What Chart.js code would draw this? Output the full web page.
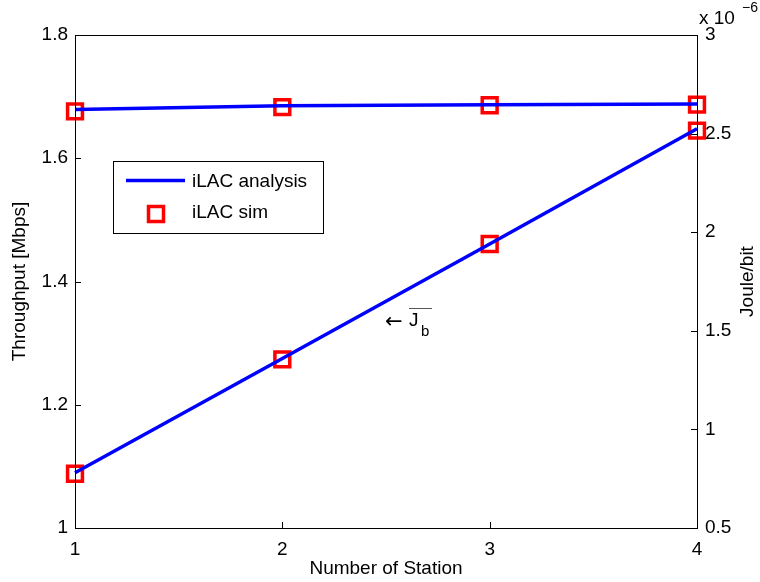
<!DOCTYPE html>
<html>
<head>
<meta charset="utf-8">
<script src="https://cdn.jsdelivr.net/npm/chart.js@4.4.0/dist/chart.umd.min.js"></script>
<style>
  html, body { margin: 0; padding: 0; background: #fff; }
  #wrap { width: 760px; height: 582px; }
</style>
</head>
<body>
<div id="wrap"><canvas id="chart" width="760" height="582"></canvas></div>
<script>
// Data
const stations = [1, 2, 3, 4];
const throughputAnalysis = [1.679, 1.685, 1.687, 1.688];
const throughputSim = [1.676, 1.683, 1.686, 1.687];
const jouleAnalysis = [0.78, 1.36, 1.94, 2.525];
const jouleSim = [0.775, 1.355, 1.94, 2.515];
const leftTicks = [1, 1.2, 1.4, 1.6, 1.8];
const rightTicks = [0.5, 1, 1.5, 2, 2.5, 3];

const FONT = '"Liberation Sans", Arial, sans-serif';
const FS = 19;
const BLUE = '#0000ff';
const RED = '#ff0000';

function pts(xs, ys) {
  return xs.map((x, i) => ({ x: x, y: ys[i] }));
}

// Draws box frame, inward ticks, axis titles, exponent, annotation and legend
const matlabDecor = {
  id: 'matlabDecor',
  afterDraw(chart) {
    const ctx = chart.ctx;
    const a = chart.chartArea;
    const sx = chart.scales.x, yl = chart.scales.y, yr = chart.scales.y2;
    ctx.save();
    ctx.strokeStyle = '#000';
    ctx.lineWidth = 1;
    ctx.strokeRect(Math.round(a.left) + 0.5, Math.round(a.top) + 0.5, Math.round(a.right - a.left), Math.round(a.bottom - a.top));

    // inward tick marks
    ctx.beginPath();
    stations.forEach(v => {
      const px = Math.round(sx.getPixelForValue(v)) + 0.5;
      ctx.moveTo(px, a.bottom); ctx.lineTo(px, a.bottom - 6);
    });
    leftTicks.forEach(v => {
      const py = Math.round(yl.getPixelForValue(v)) + 0.5;
      ctx.moveTo(a.left, py); ctx.lineTo(a.left + 6, py);
    });
    rightTicks.forEach(v => {
      const py = Math.round(yr.getPixelForValue(v)) + 0.5;
      ctx.moveTo(a.right, py); ctx.lineTo(a.right - 6, py);
    });
    ctx.stroke();

    ctx.fillStyle = '#000';
    ctx.font = FS + 'px ' + FONT;
    ctx.textAlign = 'center';
    ctx.textBaseline = 'middle';
    ctx.fillText('Number of Station', (a.left + a.right) / 2, 569);

    ctx.save();
    ctx.translate(20, (a.top + a.bottom) / 2);
    ctx.rotate(-Math.PI / 2);
    ctx.fillText('Throughput [Mbps]', 0, 0);
    ctx.restore();

    ctx.save();
    ctx.translate(748, (a.top + a.bottom) / 2);
    ctx.rotate(-Math.PI / 2);
    ctx.fillText('Joule/bit', 0, 0);
    ctx.restore();

    // exponent label
    ctx.textAlign = 'left';
    ctx.fillText('x 10', 699, 19);
    ctx.font = '14px ' + FONT;
    ctx.fillText('\u22126', 742, 8);

    // annotation
    ctx.font = '21px "DejaVu Sans", ' + FONT;
    ctx.fillText('\u2190', 385, 323);
    ctx.font = FS + 'px ' + FONT;
    ctx.fillText('J', 409, 321);
    ctx.font = '15px ' + FONT;
    ctx.fillText('b', 421, 332);
    ctx.beginPath();
    ctx.strokeStyle = '#555';
    ctx.moveTo(409, 308.5); ctx.lineTo(432, 308.5);
    ctx.stroke();

    // legend
    const lx = 113, ly = 161, lw = 210, lh = 72;
    ctx.fillStyle = '#fff';
    ctx.fillRect(lx, ly, lw, lh);
    ctx.strokeStyle = '#000';
    ctx.lineWidth = 1;
    ctx.strokeRect(lx + 0.5, ly + 0.5, lw, lh);
    ctx.strokeStyle = BLUE;
    ctx.lineWidth = 3.5;
    ctx.beginPath();
    ctx.moveTo(126, 180.5); ctx.lineTo(185, 180.5);
    ctx.stroke();
    ctx.strokeStyle = RED;
    ctx.strokeRect(148.5, 206.5, 15, 15);
    ctx.fillStyle = '#000';
    ctx.font = FS + 'px ' + FONT;
    ctx.fillText('iLAC analysis', 192, 182);
    ctx.fillText('iLAC sim', 192, 213);
    ctx.restore();
  }
};

const lineDs = (data, axis) => ({
  data: pts(stations, data), yAxisID: axis,
  borderColor: BLUE, borderWidth: 3.5, pointRadius: 0, fill: false, tension: 0
});
const simDs = (data, axis) => ({
  data: pts(stations, data), yAxisID: axis, showLine: false,
  pointStyle: 'rect', pointRadius: 10.5, pointBorderColor: RED,
  pointBorderWidth: 3.5, pointBackgroundColor: 'rgba(0,0,0,0)'
});

const tickFont = { family: FONT, size: FS };
const plain = v => String(v);

new Chart(document.getElementById('chart'), {
  type: 'line',
  data: {
    datasets: [
      lineDs(throughputAnalysis, 'y'),
      lineDs(jouleAnalysis, 'y2'),
      simDs(throughputSim, 'y'),
      simDs(jouleSim, 'y2')
    ]
  },
  options: {
    responsive: false,
    animation: false,
    clip: false,
    layout: { padding: { top: 35, right: 0, left: 0, bottom: 0 } },
    plugins: { legend: { display: false }, tooltip: { enabled: false } },
    scales: {
      x: {
        type: 'linear', min: 1, max: 4,
        afterFit: s => { s.height = 54; },
        afterBuildTicks: s => { s.ticks = stations.map(v => ({ value: v })); },
        grid: { display: false, drawTicks: false },
        border: { display: false },
        ticks: { color: '#000', font: tickFont, padding: 10, callback: plain }
      },
      y: {
        position: 'left', min: 1, max: 1.8,
        afterFit: s => { s.width = 75; },
        afterBuildTicks: s => { s.ticks = leftTicks.map(v => ({ value: v })); },
        grid: { display: false, drawTicks: false },
        border: { display: false },
        ticks: { color: '#000', font: tickFont, padding: 7, callback: plain }
      },
      y2: {
        position: 'right', min: 0.5, max: 3,
        afterFit: s => { s.width = 63; },
        afterBuildTicks: s => { s.ticks = rightTicks.map(v => ({ value: v })); },
        grid: { display: false, drawTicks: false },
        border: { display: false },
        ticks: { color: '#000', font: tickFont, padding: 8, callback: plain }
      }
    }
  },
  plugins: [matlabDecor]
});
</script>
</body>
</html>
